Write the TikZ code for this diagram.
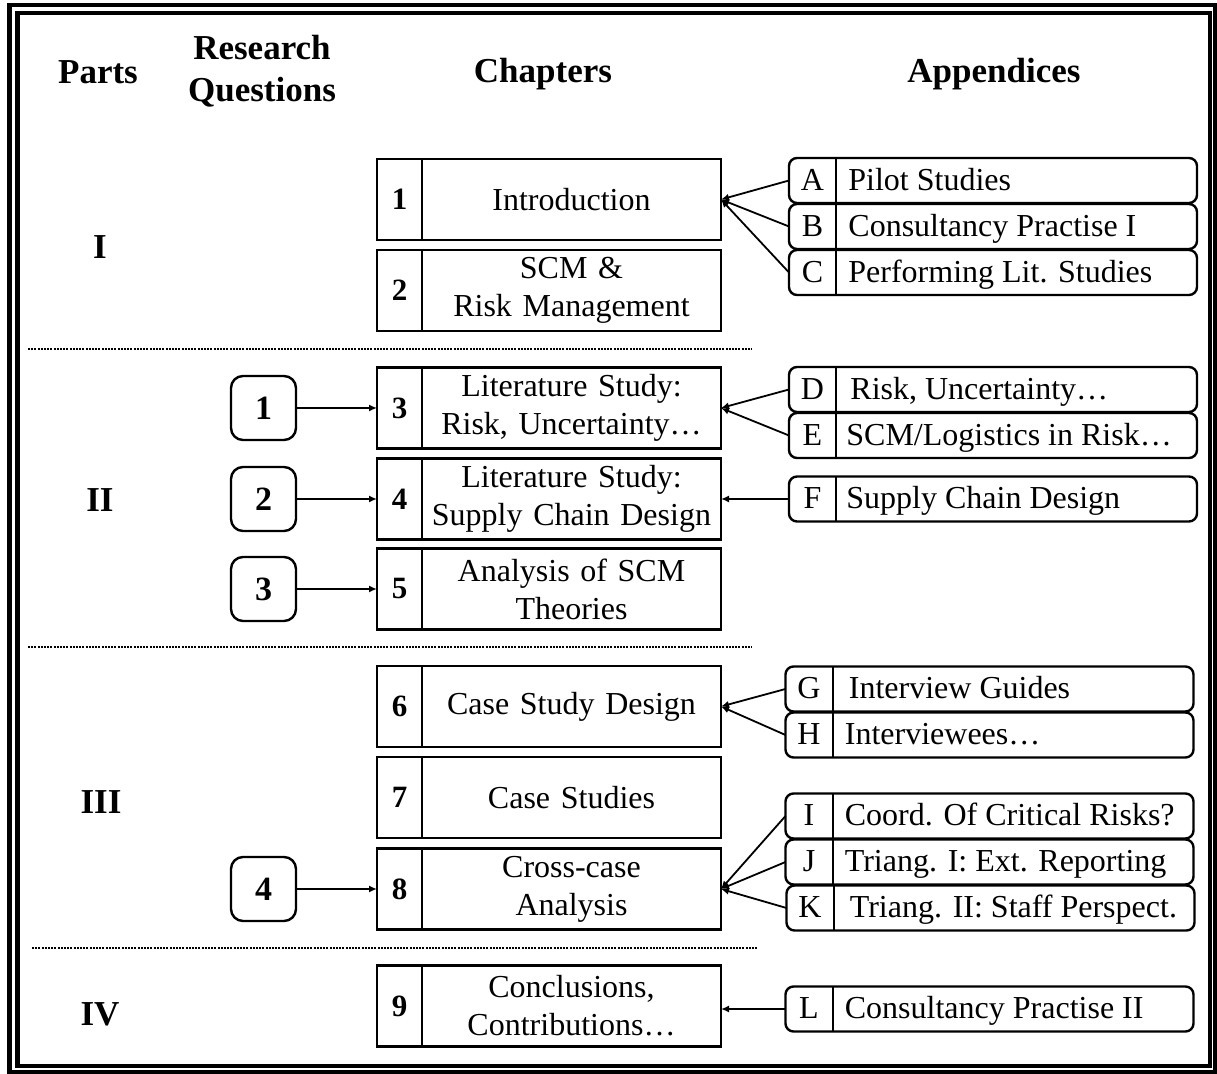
\documentclass[tikz,border=0pt]{standalone}
\usepackage{fontspec}
\setmainfont{Liberation Serif}
\usetikzlibrary{positioning,arrows.meta}

\begin{document}
\begin{tikzpicture}[x=0.5pt, y=-0.5pt,
    frame/.style={line width=2.2pt},
    head/.style={font=\bfseries\fontsize{17.5}{21}\selectfont, align=center},
    partno/.style={font=\bfseries\fontsize{17.5}{21}\selectfont},
    chnum/.style={draw, line width=1.2pt, minimum width=22.5pt, minimum height=40.5pt,
      inner sep=0pt, outer sep=0pt, font=\bfseries\fontsize{15.5}{18}\selectfont},
    chtext/.style={draw, line width=1.2pt, minimum width=149.5pt, minimum height=40.5pt,
      text width=146pt, align=center, inner sep=0pt, outer sep=0pt, font=\fontsize{16}{19}\selectfont},
    rqbox/.style={draw, line width=1.2pt, rounded corners=6pt, minimum width=32.5pt,
      minimum height=32pt, inner sep=0pt, outer sep=0pt, font=\bfseries\fontsize{17}{19}\selectfont},
    apbox/.style={draw, line width=1.2pt, rounded corners=4pt, minimum width=204pt,
      minimum height=22.5pt, inner sep=0pt, outer sep=0pt},
    aplet/.style={minimum width=23.5pt, minimum height=22.5pt, inner sep=0pt, outer sep=0pt,
      text height=13pt, text depth=3pt, font=\fontsize{16}{18}\selectfont},
    aptext/.style={inner sep=0pt, text height=13pt, text depth=3pt, font=\fontsize{16}{18}\selectfont},
    divline/.style={line width=1pt},
    partline/.style={line width=1.1pt, dash pattern=on 1pt off 0.6pt},
    link/.style={-{Latex[length=4pt,width=3.5pt]}, line width=0.9pt},
  ]
    \useasboundingbox (0,0) rectangle (1217,1074);

    % ---------------------------------------------
    % double frame
    \draw[frame] (9.5,5) rectangle (1215.5,1072);
    \draw[frame] (17.5,13) rectangle (1210,1066);

    % ---------------------------------------------
    % column heads
    \node[head] (hparts) at (98,72) {Parts};
    \node[head] (hrq) at (262,71) {Research\\Questions};
    \node[head] (hch) at (543,74) {Chapters};
    \node[head] (hap) at (994,74) {Appendices};

    % ---------------------------------------------
    % part I
    \node[partno] (p1) at (100,247) {I};
    \node[chnum] (n1) at (399.5,199.5) {1};
    \node[chtext, right=0pt of n1] (c1) {Introduction};
    \node[chnum] (n2) at (399.5,290.5) {2};
    \node[chtext, right=0pt of n2] (c2) {SCM \&\\Risk Management};

    \node[apbox] (apA) at (993,180.5) {};
    \node[aplet, right=0pt of apA.west] (lA) {A};
    \draw[divline] (lA.north east) -- (lA.south east);
    \node[aptext, right=6pt of lA] (tA) {Pilot Studies};
    \node[apbox] (apB) at (993,226.5) {};
    \node[aplet, right=0pt of apB.west] (lB) {B};
    \draw[divline] (lB.north east) -- (lB.south east);
    \node[aptext, right=6pt of lB] (tB) {Consultancy Practise I};
    \node[apbox] (apC) at (993,272.5) {};
    \node[aplet, right=0pt of apC.west] (lC) {C};
    \draw[divline] (lC.north east) -- (lC.south east);
    \node[aptext, right=6pt of lC] (tC) {Performing Lit. Studies};

    \draw[link] (apA.west) -- (c1.east);
    \draw[link] (apB.west) -- (c1.east);
    \draw[link] (apC.west) -- (c1.east);

    \draw[partline] (28,349) -- (752,349);

    % ---------------------------------------------
    % part II
    \node[partno] (p2) at (100,500) {II};
    \node[chnum] (n3) at (399.5,408) {3};
    \node[chtext, right=0pt of n3] (c3) {Literature Study:\\Risk, Uncertainty…};
    \node[chnum] (n4) at (399.5,499) {4};
    \node[chtext, right=0pt of n4] (c4) {Literature Study:\\Supply Chain Design};
    \node[chnum] (n5) at (399.5,589) {5};
    \node[chtext, right=0pt of n5] (c5) {Analysis of SCM\\Theories};

    \node[rqbox] (rq1) at (263.5,408) {1};
    \node[rqbox] (rq2) at (263.5,499) {2};
    \node[rqbox] (rq3) at (263.5,589) {3};
    \draw[link] (rq1) -- (n3);
    \draw[link] (rq2) -- (n4);
    \draw[link] (rq3) -- (n5);

    \node[apbox] (apD) at (993,389.5) {};
    \node[aplet, right=0pt of apD.west] (lD) {D};
    \draw[divline] (lD.north east) -- (lD.south east);
    \node[aptext, right=7pt of lD] (tD) {Risk, Uncertainty…};
    \node[apbox] (apE) at (993,435.5) {};
    \node[aplet, right=0pt of apE.west] (lE) {E};
    \draw[divline] (lE.north east) -- (lE.south east);
    \node[aptext, right=5pt of lE] (tE) {SCM/Logistics in Risk…};
    \node[apbox] (apF) at (993,499) {};
    \node[aplet, right=0pt of apF.west] (lF) {F};
    \draw[divline] (lF.north east) -- (lF.south east);
    \node[aptext, right=5pt of lF] (tF) {Supply Chain Design};

    \draw[link] (apD.west) -- (c3.east);
    \draw[link] (apE.west) -- (c3.east);
    \draw[link] (apF.west) -- (c4.east);

    \draw[partline] (28,647) -- (752,647);

    % ---------------------------------------------
    % part III
    \node[partno] (p3) at (101,802) {III};
    \node[chnum] (n6) at (399.5,706.5) {6};
    \node[chtext, right=0pt of n6] (c6) {Case Study Design};
    \node[chnum] (n7) at (399.5,797.5) {7};
    \node[chtext, right=0pt of n7] (c7) {Case Studies};
    \node[chnum] (n8) at (399.5,889) {8};
    \node[chtext, right=0pt of n8] (c8) {Cross-case\\Analysis};

    \node[rqbox] (rq4) at (263.5,889) {4};
    \draw[link] (rq4) -- (n8);

    \node[apbox] (apG) at (989.5,689) {};
    \node[aplet, right=0pt of apG.west] (lG) {G};
    \draw[divline] (lG.north east) -- (lG.south east);
    \node[aptext, right=8pt of lG] (tG) {Interview Guides};
    \node[apbox] (apH) at (989.5,735) {};
    \node[aplet, right=0pt of apH.west] (lH) {H};
    \draw[divline] (lH.north east) -- (lH.south east);
    \node[aptext, right=6pt of lH] (tH) {Interviewees…};
    \node[apbox] (apI) at (989.5,816) {};
    \node[aplet, right=0pt of apI.west] (lI) {I};
    \draw[divline] (lI.north east) -- (lI.south east);
    \node[aptext, right=6pt of lI] (tI) {Coord. Of Critical Risks?};
    \node[apbox] (apJ) at (989.5,862) {};
    \node[aplet, right=0pt of apJ.west] (lJ) {J};
    \draw[divline] (lJ.north east) -- (lJ.south east);
    \node[aptext, right=6pt of lJ] (tJ) {Triang. I: Ext. Reporting};
    \node[apbox] (apK) at (990.5,908) {};
    \node[aplet, right=0pt of apK.west] (lK) {K};
    \draw[divline] (lK.north east) -- (lK.south east);
    \node[aptext, right=8pt of lK] (tK) {Triang. II: Staff Perspect.};

    \draw[link] (apG.west) -- (c6.east);
    \draw[link] (apH.west) -- (c6.east);
    \draw[link] (apI.west) -- (c8.east);
    \draw[link] (apJ.west) -- (c8.east);
    \draw[link] (apK.west) -- (c8.east);

    \draw[partline] (32,948) -- (757,948);

    % ---------------------------------------------
    % part IV
    \node[partno] (p4) at (100,1014) {IV};
    \node[chnum] (n9) at (399.5,1006) {9};
    \node[chtext, right=0pt of n9] (c9) {Conclusions,\\Contributions…};

    \node[apbox] (apL) at (989.5,1009) {};
    \node[aplet, right=0pt of apL.west] (lL) {L};
    \draw[divline] (lL.north east) -- (lL.south east);
    \node[aptext, right=6pt of lL] (tL) {Consultancy Practise II};

    \draw[link] (apL.west) -- (apL.west -| c9.east);

  \end{tikzpicture}
\end{document}
